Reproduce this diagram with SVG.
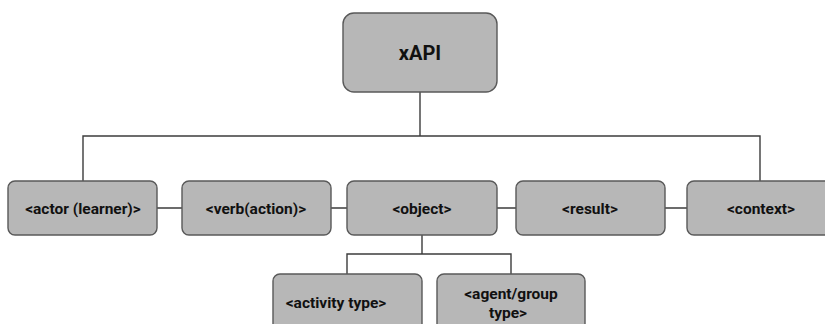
<svg xmlns="http://www.w3.org/2000/svg" width="825" height="324" viewBox="0 0 825 324">
  <style>
    .box { fill: #b7b7b7; stroke: #595959; stroke-width: 1.4; }
    .lbl { font-family: Roboto, "Liberation Sans", sans-serif; font-weight: bold; font-size: 15.5px; fill: #111111; text-anchor: middle; }
    .title { font-size: 20px; }
    .wire { fill: none; stroke: #3c3c3c; stroke-width: 1.4; }
  </style>
  <rect x="0" y="0" width="825" height="324" fill="#ffffff"/>

  <g id="connectors">
    <path class="wire" d="M420 92 V136 M83 181 V136 H760 V181"/>
    <path class="wire" d="M157 208 H182 M331 208 H347 M497 208 H516 M665 208 H687"/>
    <path class="wire" d="M422 235 V254 M347 274 V254 H511 V274"/>
  </g>

  <g id="xapi">
    <rect class="box" x="343" y="13" width="154" height="79" rx="11"/>
    <text class="lbl title" x="420" y="60">xAPI</text>
  </g>
  <g id="actor">
    <rect class="box" x="8" y="181" width="149" height="54" rx="7"/>
    <text class="lbl" x="83" y="214">&lt;actor (learner)&gt;</text>
  </g>
  <g id="verb">
    <rect class="box" x="182" y="181" width="149" height="54" rx="7"/>
    <text class="lbl" x="256" y="214">&lt;verb(action)&gt;</text>
  </g>
  <g id="object">
    <rect class="box" x="347" y="181" width="150" height="54" rx="7"/>
    <text class="lbl" x="422" y="214">&lt;object&gt;</text>
  </g>
  <g id="result">
    <rect class="box" x="516" y="181" width="149" height="54" rx="7"/>
    <text class="lbl" x="590" y="214">&lt;result&gt;</text>
  </g>
  <g id="context">
    <rect class="box" x="687" y="181" width="149" height="54" rx="7"/>
    <text class="lbl" x="761" y="214">&lt;context&gt;</text>
  </g>
  <g id="activity-type">
    <rect class="box" x="273" y="274" width="149" height="60" rx="7"/>
    <text class="lbl" x="336" y="308">&lt;activity type&gt;</text>
  </g>
  <g id="agent-group-type">
    <rect class="box" x="437" y="274" width="148" height="60" rx="7"/>
    <text class="lbl" x="511" y="299">&lt;agent/group</text>
    <text class="lbl" x="508" y="318">type&gt;</text>
  </g>
</svg>
